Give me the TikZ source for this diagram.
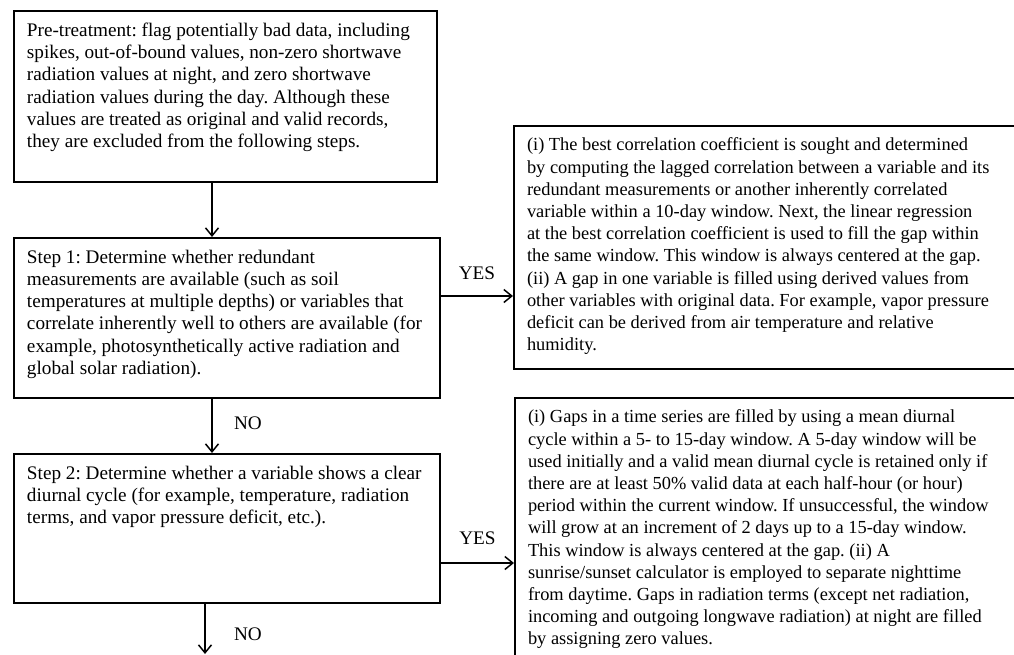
\documentclass[tikz,border=0pt]{standalone}
\usepackage{fontspec}
\setmainfont{Liberation Serif}
\usetikzlibrary{arrows.meta}

\newcommand{\boxtxt}[3]{\begin{minipage}[t][#2][t]{#1}\raggedright\frenchspacing #3\end{minipage}}

\begin{document}
\begin{tikzpicture}[
                        x=1pt, y=-1pt,
                        font=\fontsize{19.2}{22.2}\selectfont,
                        >={Straight Barb[length=8pt,width=13pt]},
                        block/.style={rectangle, draw, line width=2pt, anchor=north west,
                                      inner xsep=13pt, inner ysep=12pt},
                        wide/.style={block, font=\fontsize{18.4}{22.2}\selectfont},
                        flow/.style={->, line width=1.5pt}
                    ]
                    \useasboundingbox (0,0) rectangle (1014,654);
                    \clip (0,0) rectangle (1014,654);

                    % Blocks
                    \node [block] (pre) at (13,10) {\boxtxt{397pt}{147pt}{Pre-treatment: flag potentially bad data, including\\
                        spikes, out-of-bound values, non-zero shortwave\\
                        radiation values at night, and zero shortwave\\
                        radiation values during the day. Although these\\
                        values are treated as original and valid records,\\
                        they are excluded from the following steps.}};
                    \node [block] (step1) at (13,237) {\boxtxt{400pt}{136pt}{Step 1: Determine whether redundant\\
                        measurements are available (such as soil\\
                        temperatures at multiple depths) or variables that\\
                        correlate inherently well to others are available (for\\
                        example, photosynthetically active radiation and\\
                        global solar radiation).}};
                    \node [block] (step2) at (13,453) {\boxtxt{400pt}{125pt}{Step 2: Determine whether a variable shows a clear\\
                        diurnal cycle (for example, temperature, radiation\\
                        terms, and vapor pressure deficit, etc.).}};
                    \node [wide] (fill1) at (513,125) {\boxtxt{514pt}{219pt}{(i) The best correlation coefficient is sought and determined\\
                        by computing the lagged correlation between a variable and its\\
                        redundant measurements or another inherently correlated\\
                        variable within a 10-day window. Next, the linear regression\\
                        at the best correlation coefficient is used to fill the gap within\\
                        the same window. This window is always centered at the gap.\\
                        (ii) A gap in one variable is filled using derived values from\\
                        other variables with original data. For example, vapor pressure\\
                        deficit can be derived from air temperature and relative\\
                        humidity.}};
                    \node [wide] (fill2) at (514,397) {\boxtxt{514pt}{306pt}{(i) Gaps in a time series are filled by using a mean diurnal\\
                        cycle within a 5- to 15-day window. A 5-day window will be\\
                        used initially and a valid mean diurnal cycle is retained only if\\
                        there are at least 50\% valid data at each half-hour (or hour)\\
                        period within the current window. If unsuccessful, the window\\
                        will grow at an increment of 2 days up to a 15-day window.\\
                        This window is always centered at the gap. (ii) A\\
                        sunrise/sunset calculator is employed to separate nighttime\\
                        from daytime. Gaps in radiation terms (except net radiation,\\
                        incoming and outgoing longwave radiation) at night are filled\\
                        by assigning zero values.}};

                    \coordinate (col) at (212,0);
                    \coordinate (next) at (205,654);
                    \coordinate (yes1) at ([yshift=22pt]step1.east);
                    \coordinate (yes2) at ([yshift=-34.5pt]step2.east);

                    % Connections
                    \draw [flow] (pre.south -| col) -- (step1.north -| col);
                    \draw [flow] (step1.south -| col) --node[pos=0.45,right=18pt]{NO} (step2.north -| col);
                    \draw [flow] (step2.south -| next) --node[pos=0.6,right=25pt]{NO} (next);
                    \draw [flow] (yes1) --node[above=12pt]{YES} (fill1.west |- yes1);
                    \draw [flow] (yes2) --node[above=14pt]{YES} (fill2.west |- yes2);
                \end{tikzpicture}
\end{document}
